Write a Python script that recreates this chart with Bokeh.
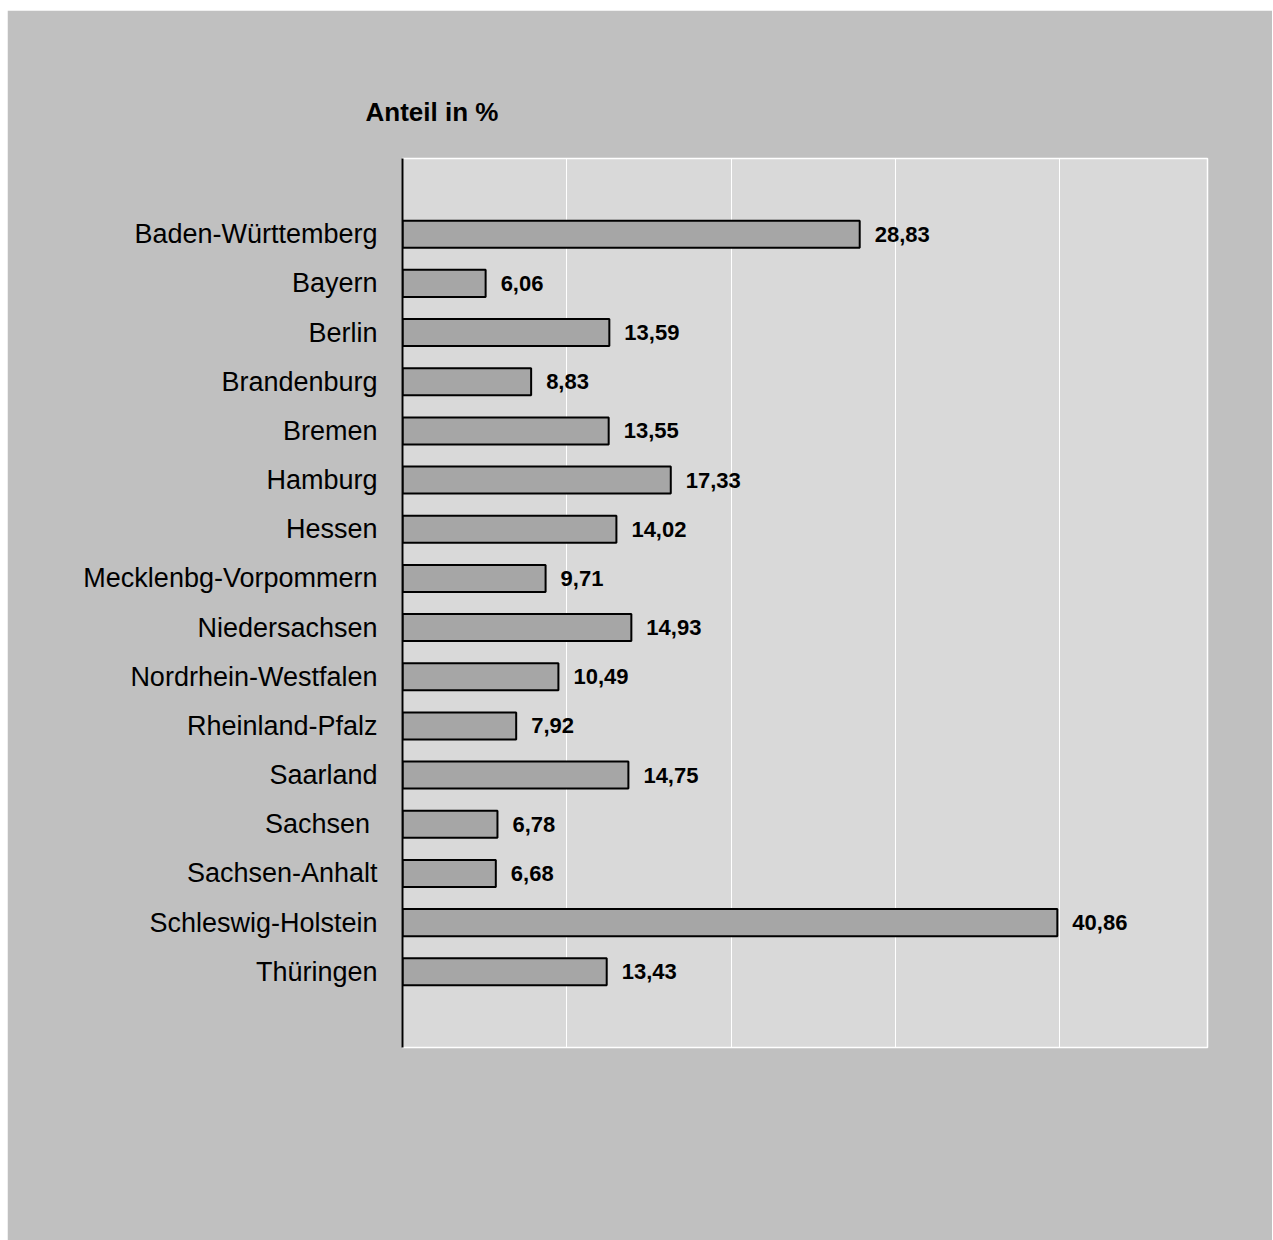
from bokeh.plotting import figure
from bokeh.models import FactorRange, Range1d, FixedTicker, ColumnDataSource
from bokeh.core.properties import value
from bokeh.embed import file_html
from bokeh.resources import INLINE

categories = ["Baden-Württemberg", "Bayern", "Berlin", "Brandenburg", "Bremen",
              "Hamburg", "Hessen", "Mecklenbg-Vorpommern", "Niedersachsen",
              "Nordrhein-Westfalen", "Rheinland-Pfalz", "Saarland", "Sachsen ",
              "Sachsen-Anhalt", "Schleswig-Holstein", "Thüringen"]
values = [28.83, 6.06, 13.59, 8.83, 13.55, 17.33, 14.02, 9.71, 14.93,
          10.49, 7.92, 14.75, 6.78, 6.68, 40.86, 13.43]
labels = [f"{v:.2f}".replace(".", ",") for v in values]
title_text = "Anteil in %"
x_min, x_max = 1, 50
grid_ticks = [11, 21, 31, 41]

FONT = "Liberation Sans"

src = ColumnDataSource(dict(cat=categories, val=values, lab=labels,
                            base=[x_min] * len(values)))

p = figure(width=1265, height=1230, output_backend="svg", toolbar_location=None,
           y_range=FactorRange(factors=list(reversed(categories)),
                               range_padding=0.13, range_padding_units="percent"),
           x_range=Range1d(x_min, x_max),
           min_border_left=395, min_border_right=65,
           min_border_top=148, min_border_bottom=193,
           title=title_text)
p.margin = (10, 0, 0, 7)

p.background_fill_color = "#d9d9d9"
p.border_fill_color = "#c0c0c0"
p.outline_line_color = "white"
p.outline_line_width = 1.5

p.title.text_font = FONT
p.title.text_font_size = "26px"
p.title.text_font_style = "bold"
p.title.align = "left"
p.title.offset = -37
p.title.standoff = 64
p.title.text_color = "black"

p.hbar(y="cat", left="base", right="val", height=0.55, source=src,
       fill_color="#a6a6a6", line_color="black", line_width=2)

p.text(x="val", y="cat", text="lab", source=src, x_offset=15,
       text_baseline="middle", text_align="left",
       text_font=value(FONT), text_font_size="22px", text_font_style="bold",
       text_color="black")

p.xaxis.visible = False
p.xgrid.ticker = FixedTicker(ticks=grid_ticks)
p.xgrid.grid_line_color = "white"
p.xgrid.grid_line_width = 1
p.ygrid.grid_line_color = None

yax = p.yaxis[0]
yax.axis_line_color = "black"
yax.axis_line_width = 2
yax.major_tick_line_color = None
yax.minor_tick_line_color = None
yax.major_tick_out = 0
yax.major_tick_in = 0
yax.major_label_standoff = 25
yax.major_label_text_font = FONT
yax.major_label_text_font_size = "27px"
yax.major_label_text_color = "black"

open("out.html", "w").write(file_html(p, INLINE))
